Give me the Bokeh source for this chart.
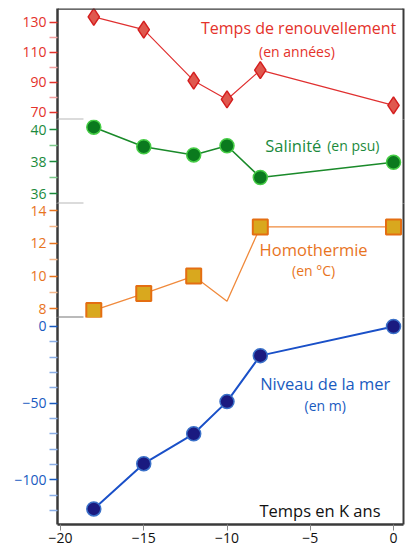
from bokeh.plotting import figure
from bokeh.models import Range1d, FixedTicker, LinearAxis, Label, Arrow
from bokeh.layouts import column
from bokeh.embed import file_html
from bokeh.resources import INLINE

# ---- data ----
years = [-18, -15, -12, -10, -8, 0]
renouvellement = [133.5, 125, 91, 78.5, 98, 74.5]
salinite = [40.15, 38.93, 38.42, 38.99, 37.01, 37.96]
homo_line = [7.9, 8.93, 10, 8.46, 13, 13]
homo_years = [-18, -15, -12, -8, 0]
homo_pts = [7.9, 8.93, 10, 13, 13]
niveau = [-119, -89.5, -70, -49, -19, 0]

x_ticks = [-20, -15, -10, -5, 0]
red_ticks, red_minor = [70, 90, 110, 130], [80, 100, 120, 140]
green_ticks, green_minor = [36, 38, 40], [37, 39]
orange_ticks, orange_minor = [8, 10, 12, 14], [9, 11, 13]
blue_ticks = [0, -50, -100]
blue_minor = [-10, -20, -30, -40, -60, -70, -80, -90, -110, -120]

FONT = "Open Sans"
AX = "#3a3a3a"
W = 407
X0, X1 = -20.18, 0.6
xr = Range1d(X0, X1)
PAD = 10  # transparent overlap border between stacked panels

def make_fig(frame_h, yr, ticks, minor, col, light, top=PAD, bottom=PAD, xaxis=False, first=False):
    p = figure(width=W, height=frame_h + top + bottom, x_range=xr, y_range=Range1d(*yr),
               output_backend="svg", toolbar_location=None,
               min_border_left=57, min_border_right=4,
               min_border_top=top, min_border_bottom=bottom,
               x_axis_location="below" if xaxis else None,
               margin=(0 if first else -2 * PAD, 0, 0, 0))
    p.grid.grid_line_color = None
    p.outline_line_color = None
    p.background_fill_color = None
    p.border_fill_color = None
    ya = p.yaxis[0]
    ya.ticker = FixedTicker(ticks=ticks, minor_ticks=minor)
    ya.axis_line_color = AX
    ya.axis_line_width = 2.5
    ya.major_tick_line_color = col
    ya.major_tick_line_width = 1.5
    ya.major_tick_out = 8
    ya.major_tick_in = 0
    ya.minor_tick_line_color = light
    ya.minor_tick_line_width = 1.5
    ya.minor_tick_out = 8
    ya.minor_tick_in = 0
    ya.major_label_text_color = col
    ya.major_label_text_font = FONT
    ya.major_label_text_font_size = "14px"
    ya.major_label_standoff = 3
    ra = LinearAxis(ticker=FixedTicker(ticks=[]), major_label_text_font_size="0px",
                    axis_line_color=AX, axis_line_width=2,
                    major_tick_line_color=None, minor_tick_line_color=None)
    p.add_layout(ra, "right")
    return p

red, red_l = "#e4322b", "#f2a0a0"
green, green_l = "#1b8a3c", "#7cc88a"
orange, orange_l = "#e8741e", "#f5b78a"
blue, blue_l = "#1a5bbf", "#8aaee6"

R_RED = (65.13, 139.13)
R_GREEN = (35.39, 40.63)
R_ORANGE = (7.47, 14.43)
R_BLUE = (-129.16, 5.87)

p1 = make_fig(111, R_RED, red_ticks, red_minor, red, red_l, top=8, first=True)
p1.add_layout(Arrow(start=None, end=None, x_start=X0, x_end=X1, y_start=R_RED[1], y_end=R_RED[1],
                    line_color=AX, line_width=2.5))
p1.line(years, renouvellement, line_color="#e03030", line_width=1.2)
p1.scatter(years, renouvellement, marker="diamond", size=17,
           fill_color="#e0584e", line_color="#d41f1f", line_width=1.5)
p1.add_layout(Label(x=-5.7, y=126.3, text="Temps de renouvellement", text_align="center",
                    text_baseline="middle", text_font=FONT, text_font_size="16px", text_color=red))
p1.add_layout(Label(x=-5.8, y=110.7, text="(en années)", text_align="center",
                    text_baseline="middle", text_font=FONT, text_font_size="14px", text_color=red))

p2 = make_fig(84, R_GREEN, green_ticks, green_minor, green, green_l)
p2.line(years, salinite, line_color="#1a8a2a", line_width=1.6)
p2.scatter(years, salinite, marker="circle", size=14,
           fill_color="#0a7a1e", line_color="#45cc45", line_width=1.5)
p2.add_layout(Label(x=-7.7, y=39.0, text="Salinité", text_align="left",
                    text_baseline="middle", text_font=FONT, text_font_size="16.5px", text_color=green))
p2.add_layout(Label(x=-3.98, y=39.0, text="(en psu)", text_align="left",
                    text_baseline="middle", text_font=FONT, text_font_size="14px", text_color=green))

p3 = make_fig(114, R_ORANGE, orange_ticks, orange_minor, orange, orange_l)
p3.line(years, homo_line, line_color="#f08a3c", line_width=1.3)
p3.scatter(homo_years, homo_pts, marker="square", size=15,
           fill_color="#d9a81e", line_color="#e46e12", line_width=2)
p3.add_layout(Label(x=-4.8, y=11.6, text="Homothermie", text_align="center",
                    text_baseline="middle", text_font=FONT, text_font_size="16.5px", text_color=orange))
p3.add_layout(Label(x=-4.8, y=10.34, text="(en °C)", text_align="center",
                    text_baseline="middle", text_font=FONT, text_font_size="14px", text_color=orange))

p4 = make_fig(207, R_BLUE, blue_ticks, blue_minor, blue, blue_l, bottom=24, xaxis=True)
xa = p4.xaxis[0]
xa.ticker = FixedTicker(ticks=x_ticks)
xa.axis_line_color = AX
xa.axis_line_width = 2.5
xa.major_tick_line_color = "#888888"
xa.major_tick_out = 6
xa.major_tick_in = 0
xa.minor_tick_line_color = None
xa.major_label_text_color = "#111111"
xa.major_label_text_font = FONT
xa.major_label_text_font_size = "14px"
xa.major_label_standoff = 2
p4.line(years, niveau, line_color="#1a50c8", line_width=2)
p4.scatter(years, niveau, marker="circle", size=14,
           fill_color="#1a1a80", line_color="#3a70c8", line_width=1.5)
p4.add_layout(Label(x=-4.1, y=-37.4, text="Niveau de la mer", text_align="center",
                    text_baseline="middle", text_font=FONT, text_font_size="16.5px", text_color=blue))
p4.add_layout(Label(x=-4.1, y=-51.5, text="(en m)", text_align="center",
                    text_baseline="middle", text_font=FONT, text_font_size="14px", text_color=blue))
p4.add_layout(Label(x=-0.78, y=-120.1, text="Temps en K ans", text_align="right",
                    text_baseline="middle", text_font=FONT, text_font_size="16.5px", text_color="#111111"))

# separators between panels (short grey strokes across the left axis)
def sep(p, yv, col):
    p.add_layout(Arrow(start=None, end=None, x_start=-22.28, x_end=-18.62,
                       y_start=yv, y_end=yv, line_color=col, line_width=2))

sep(p1, R_RED[0], "#b8b8b8")
sep(p2, R_GREEN[0], "#b8b8b8")
sep(p3, R_ORANGE[0], "#777777")

layout = column(p1, p2, p3, p4, spacing=0)
open("out.html", "w").write(file_html(layout, INLINE))
